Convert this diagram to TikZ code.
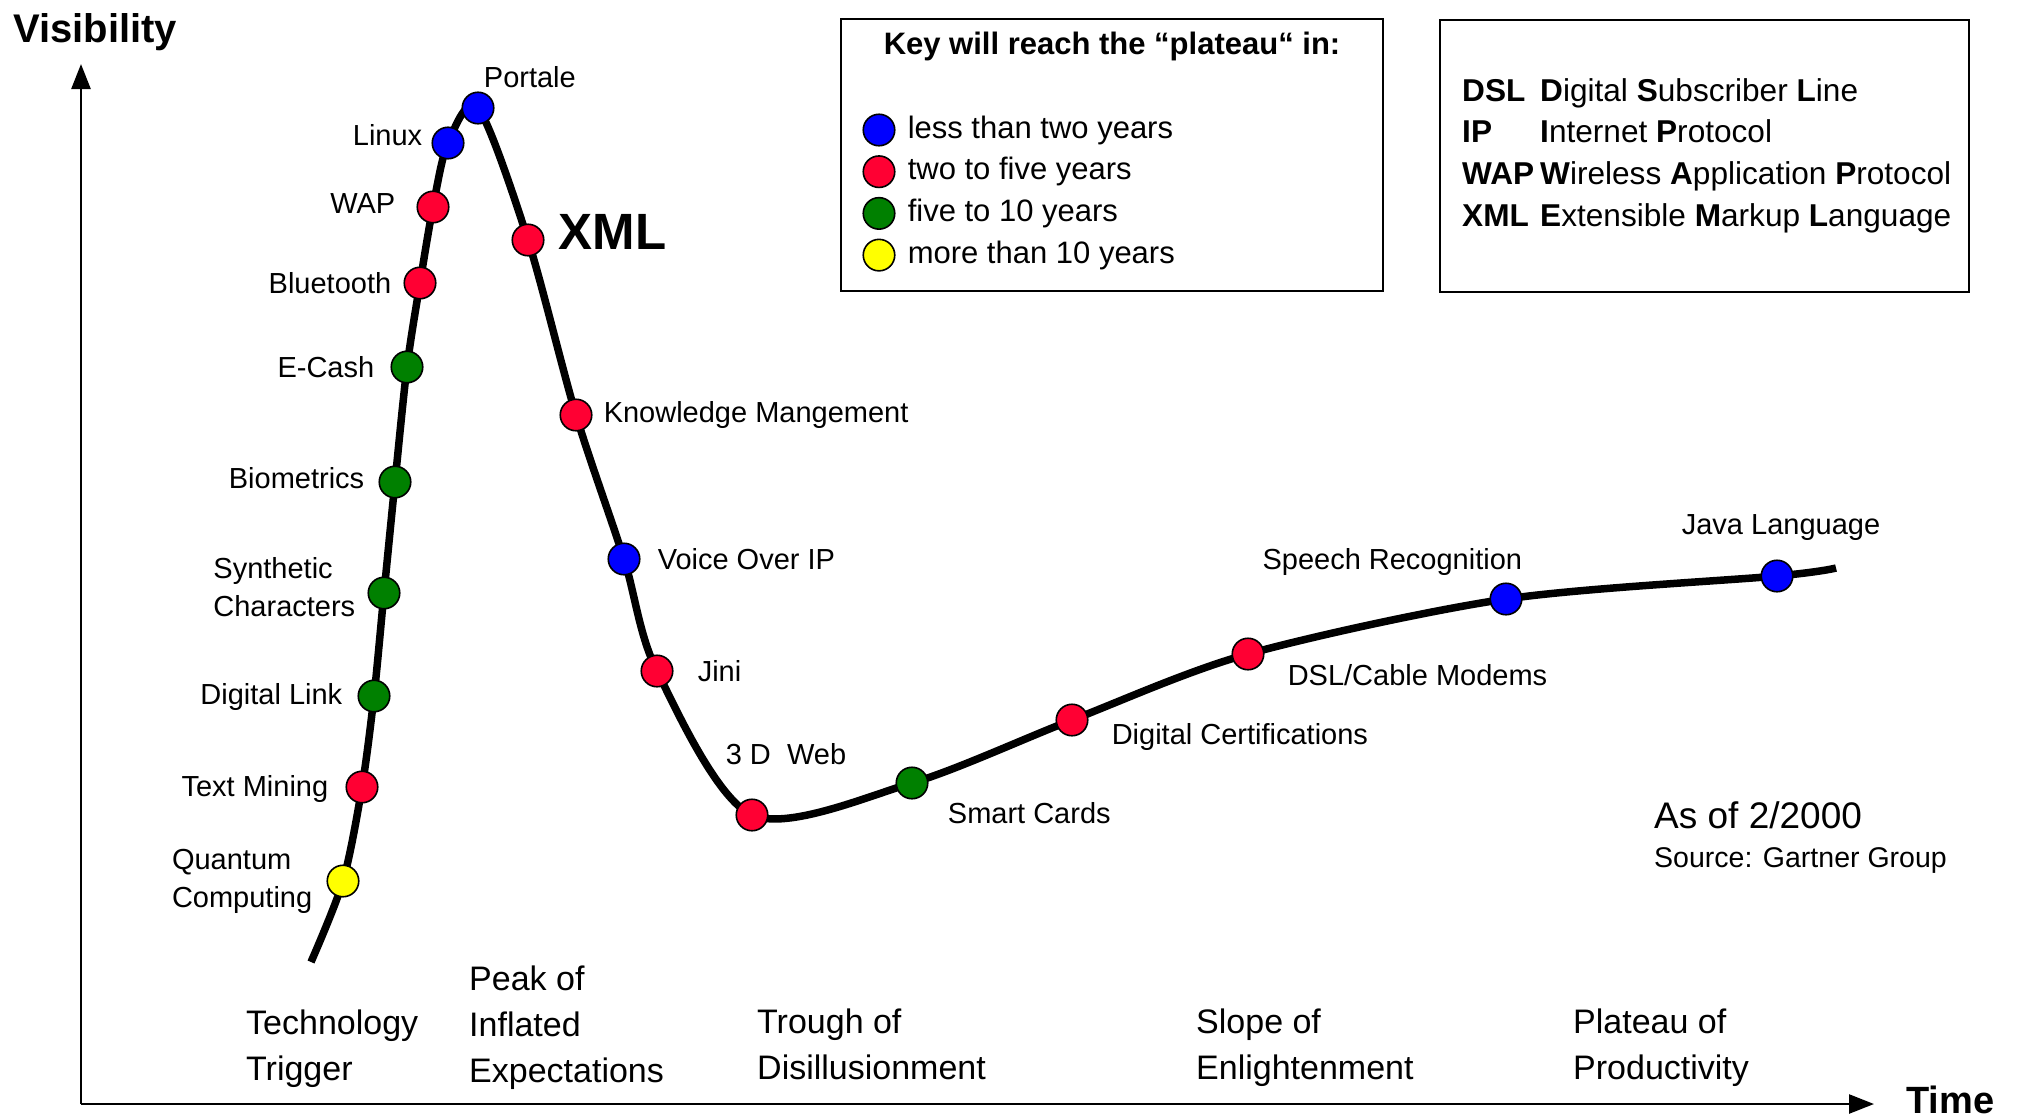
\documentclass[tikz,border=0pt]{standalone}
\usepackage{fontspec}
\setmainfont{Liberation Sans}
\usetikzlibrary{positioning,arrows.meta,backgrounds}

\definecolor{dotblue}{RGB}{0,0,255}
\definecolor{dotred}{RGB}{255,0,51}
\definecolor{dotgreen}{RGB}{0,128,0}
\definecolor{dotyellow}{RGB}{255,255,0}

\begin{document}
\begin{tikzpicture}[x=1pt,y=-1pt,>={Triangle[length=25pt,width=19pt]},
    dot/.style={circle,draw,line width=1.6pt,fill=#1,minimum size=31.5pt,inner sep=0pt},
    lbl/.style={inner sep=0pt,font=\fontsize{29}{38}\selectfont},
    phase/.style={inner sep=0pt,anchor=north west,align=left,font=\fontsize{34}{46}\selectfont},
    axislbl/.style={inner sep=0pt,font=\fontsize{40}{46}\selectfont\bfseries},
    box/.style={draw,line width=2pt,inner sep=0pt,anchor=north west},
    keytxt/.style={inner sep=0pt,font=\fontsize{31}{37}\selectfont},
    glosstxt/.style={inner sep=0pt,anchor=base west,font=\fontsize{31.6}{37}\selectfont},
    hype/.style={line width=7.5pt,line join=round}]
	\useasboundingbox (0,0) rectangle (2020,1119);

	% axes
	\coordinate (o) at (81,1104);
	\coordinate (ytop) at (81,64);
	\coordinate (xend) at (1874,1104);
	\draw[->,line width=2.5pt] (o) -- (ytop);
	\draw[->,line width=2.5pt] (o) -- (xend);
	\node[axislbl,anchor=base west] (vis) at (13,42) {Visibility};
	\node[axislbl,font=\fontsize{38}{46}\selectfont\bfseries,anchor=west] (time) at (1906,1100) {Time};

	% technologies on the curve
	\coordinate (start) at (311,962);
	\node[dot=dotyellow] (quantum) at (343,881) {};
	\node[dot=dotred] (textmining) at (362,787) {};
	\node[dot=dotgreen] (digilink) at (374,696) {};
	\node[dot=dotgreen] (synthetic) at (384,593) {};
	\node[dot=dotgreen] (biometrics) at (395,482) {};
	\node[dot=dotgreen] (ecash) at (407,367) {};
	\node[dot=dotred] (bluetooth) at (420,283) {};
	\node[dot=dotred] (wap) at (433,207) {};
	\node[dot=dotblue] (linux) at (448,143) {};
	\node[dot=dotblue] (portale) at (478,108) {};
	\node[dot=dotred] (xml) at (528,240) {};
	\node[dot=dotred] (knowledge) at (576,415) {};
	\node[dot=dotblue] (voip) at (624,559) {};
	\node[dot=dotred] (jini) at (657,671) {};
	\node[dot=dotred] (web) at (752,815) {};
	\node[dot=dotgreen] (smartcards) at (912,783) {};
	\node[dot=dotred] (digicert) at (1072,720) {};
	\node[dot=dotred] (dsl) at (1248,654) {};
	\node[dot=dotblue] (speech) at (1506,599) {};
	\node[dot=dotblue] (java) at (1777,576) {};
	\coordinate (end) at (1836,568);

	\begin{scope}[on background layer]
		\draw[hype] plot[smooth] coordinates {(start) (quantum.center) (textmining.center)
			(digilink.center) (synthetic.center) (biometrics.center) (ecash.center)
			(bluetooth.center) (wap.center) (linux.center) (portale.center) (xml.center)
			(knowledge.center) (voip.center) (jini.center) (web.center) (smartcards.center)
			(digicert.center) (dsl.center) (speech.center) (java.center) (end)};
	\end{scope}

	\node[lbl,left=14pt of quantum,align=left] {Quantum\\Computing};
	\node[lbl,left=17pt of textmining,yshift=-2pt] {Text Mining};
	\node[lbl,left=15pt of digilink,yshift=-1pt] {Digital Link};
	\node[lbl,left=12pt of synthetic,yshift=6pt,align=left] {Synthetic\\Characters};
	\node[lbl,left=14pt of biometrics,yshift=4pt] {Biometrics};
	\node[lbl,left=16pt of ecash] {E-Cash};
	\node[lbl,left=12pt of bluetooth] {Bluetooth};
	\node[lbl,left=21pt of wap,yshift=3pt] {WAP};
	\node[lbl,left=9pt of linux,yshift=8pt] {Linux};
	\node[lbl,above right=8pt and -6pt of portale] {Portale};
	\node[inner sep=0pt,font=\fontsize{51}{60}\selectfont\bfseries,right=14pt of xml,yshift=8pt] {XML};
	\node[lbl,right=11pt of knowledge] {Knowledge Mangement};
	\node[lbl,right=17pt of voip] {Voice Over IP};
	\node[lbl,right=24pt of jini] {Jini};
	\node[lbl,above=33pt of web,xshift=34pt] {3 D\ \ Web};
	\node[lbl,below right=8pt and 24pt of smartcards] {Smart Cards};
	\node[lbl,right=23pt of digicert,yshift=-17pt] {Digital Certifications};
	\node[lbl,right=23pt of dsl,yshift=-21pt] {DSL/Cable Modems};
	\node[lbl,above left=12pt and -28pt of speech] {Speech Recognition};
	\node[lbl,above=19pt of java,xshift=4pt] {Java Language};

	% phases
	\node[phase] (trigger) at (246,1010) {Technology\\Trigger};
	\node[phase] (peak) at (469,966) {Peak of\\Inflated\\Expectations};
	\node[phase] (trough) at (757,1009) {Trough of\\Disillusionment};
	\node[phase] (slope) at (1196,1009) {Slope of\\Enlightenment};
	\node[phase] (plateau) at (1573,1009) {Plateau of\\Productivity};

	\node[inner sep=0pt,anchor=north west,font=\fontsize{37}{44}\selectfont] (asof) at (1654,801) {As of 2/2000};
	\node[inner sep=0pt,font=\fontsize{28.5}{34}\selectfont,below=19pt of asof.south west,anchor=north west] (source) {Source: Gartner Group};

	% key
	\node[box,minimum width=542pt,minimum height=272pt] (key) at (840,18) {};
	\node[keytxt,font=\fontsize{31}{37}\selectfont\bfseries,below=14pt of key.north] (keyhead) {Key will reach the “plateau“ in:};
	\foreach \col/\txt [count=\i] in {dotblue/less than two years,dotred/two to five years,
		dotgreen/five to 10 years,dotyellow/more than 10 years}{
		\node[dot=\col] (k\i) at (879,{88.3+41.7*\i}) {};
		\node[keytxt,right=12pt of k\i] {\txt};
	}

	% abbreviations
	\node[box,minimum width=529pt,minimum height=272pt] (gloss) at (1439,19) {};
	\foreach \abbr/\full [count=\i] in {DSL/{\textbf{D}igital \textbf{S}ubscriber \textbf{L}ine},
		IP/{\textbf{I}nternet \textbf{P}rotocol},
		WAP/{\textbf{W}ireless \textbf{A}pplication \textbf{P}rotocol},
		XML/{\textbf{E}xtensible \textbf{M}arkup \textbf{L}anguage}}{
		\node[glosstxt] (g\i) at (1462,{59.5+41.7*\i}) {\textbf{\abbr}};
		\node[glosstxt] at (1540,{59.5+41.7*\i}) {\full};
	}
\end{tikzpicture}
\end{document}
